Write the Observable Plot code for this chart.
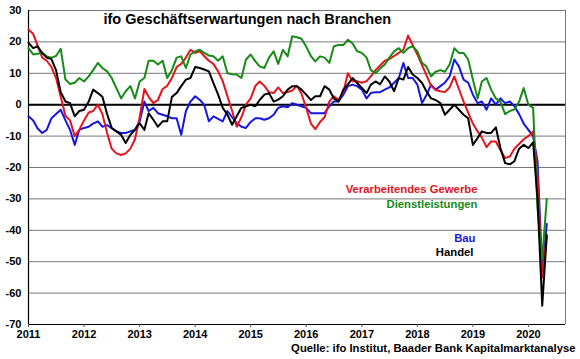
<!DOCTYPE html>
<html>
<head>
<meta charset="utf-8">
<script src="https://cdn.jsdelivr.net/npm/d3@7"></script>
<script src="https://cdn.jsdelivr.net/npm/@observablehq/plot@0.6"></script>
<style>
  html, body { margin: 0; padding: 0; background: #fff; }
  #chart svg { display: block; }
</style>
</head>
<body>
<div id="chart"></div>
<script>
// Monthly series Jan 2011 .. May 2020 (113 months)
const startYear = 2011;
const verarbeitendesGewerbe = [
  24, 22.5, 19, 15, 14, 12, 8.5, 2.5, -3.5, -5, -10, -8,
  -5, -2.5, -2, 0, -3, -9, -14, -15.5, -16, -15.5, -14, -11,
  -4, 5, 2.5, 0.5, 1.5, 5, 6, 8.5, 12, 13, 15, 17.5,
  16.5, 17, 15.5, 14, 13, 10.6, 7.5, 2.7, -2, -7, -4, 0,
  2, 6, 7.4, 6, 4, 3.7, 5.5, 3.7, 4, 4.5, 6, 3.5,
  -1, -6, -7.8, -5.5, -4, 1, 2.7, 1.5, 4, 10, 7.5, 7.5,
  7, 7.5, 9, 11, 12.5, 14, 14.5, 15.5, 16.5, 17.5, 22, 19,
  16, 12.5, 9.5, 6, 4.7, 4.3, 4, 5.5, 9, 5, 1, -2.5,
  -6, -8.5, -10.5, -13.5, -11.7, -11.7, -14.5, -17, -16.5, -14, -12.5, -11,
  -10, -8.5, -22, -55, -42
];
const dienstleistungen = [
  18, 16, 16.2, 16.5, 15.4, 15, 15.5, 17.8, 8, 6.6, 7, 8.5,
  7.4, 9, 11, 13.3, 11.7, 10.6, 8.5, 5.3, 2, 4.3, 5.9, 2,
  7.4, 8.5, 14, 14, 12.8, 14, 8.5, 11, 15, 15.4, 11.7, 16,
  17, 17.5, 16.5, 15.7, 15.4, 14, 15.4, 10, 9.7, 9.6, 8.5, 14.4,
  16, 13.8, 12.2, 11.7, 15, 17, 13, 17.5, 15.4, 21.8, 21.5, 21,
  18.5, 15.5, 13.8, 15.4, 15, 13.3, 18.6, 19, 19, 20.7, 19.5, 17,
  16.5, 15, 11, 10, 11.5, 12.8, 15, 17, 18, 16.5, 18, 18.6,
  17, 13.3, 12.2, 9, 10.5, 11, 10.5, 12.8, 18, 16.5, 16.5, 14.4,
  8, 2, 7.4, 8.5, 4.8, 2, 1, -3, -2, -1.5, 1, 5.3,
  0, -1, -33, -49, -30
];
const bau = [
  -3.7, -5, -7.5, -9, -8, -4.3, -3, -1.6, -5, -8, -12.8, -8,
  -7.4, -7, -6, -5.3, -7, -6.5, -7.5, -8.5, -9, -9, -8.5, -8,
  -5.3, 1, -2, -1, -2.7, -3.2, -3.7, -4.3, -4.3, -9.6, -2, 1,
  2.7, 1.5, 0, -5.3, -3.7, -4.5, -5.3, -2, -4, -5.9, -7, -7.4,
  -5.5, -4.3, -4.3, -4.8, -4.3, -3.2, -1, -0.5, -0.8, 0.5, 0, -0.5,
  -1, -2.7, -2.7, -2.7, -2.7, -0.5, 1, 1, 3.2, 5.9, 6.4, 5.9,
  4.8, 2, 3.7, 4, 4, 4.8, 5.5, 7, 8.5, 13.3, 8.5, 8.5,
  6.4, 0.5, 3, 6.4, 4.8, 5.9, 7, 9, 14.4, 12.2, 8, 7,
  3.2, 0.5, 1, -1.6, 2, 0, 2, 0.5, 1, -0.5, -3, -6,
  -8, -10, -18, -53, -38
];
const handel = [
  19.7, 18, 18.6, 16.5, 15, 14.5, 11, 4, 1, 0.5, -3.7, -2,
  -1.6, 1, 4.8, 3.7, 2.5, -3, -7.4, -8.5, -9.6, -12.2, -9.6, -8,
  -5.9, -8, -2.7, -4.8, -7, -5.3, -5.3, 2.5, 3.7, 5.9, 8, 8.5,
  12, 11.7, 11.2, 10.6, 6.9, 3.2, -1, -3.2, -6.4, -3.7, -1, -0.5,
  0, -0.5, 1.5, 3.2, 3.7, 1, 1.6, 2.7, 4.8, 5.9, 5.9, 4.8,
  3.2, 1.5, 2.7, 2.7, 5.9, 4.8, 2, 1, 4.8, 6.5, 8.5, 6.9,
  5.3, 3.7, 6.4, 7.4, 6.5, 9, 7.4, 4.3, 8.5, 8, 12, 9.6,
  8.5, 6.9, 4.3, 2, 1.5, 0.5, -3.2, -1.6, 0, -1.6, -3.2, -4.3,
  -12.8, -10.6, -8.5, -9, -9, -7.2, -13.8, -18.6, -19, -18, -14, -12.8,
  -13.8, -12, -30, -64, -41.5
];
const seriesNames = ["Verarbeitendes Gewerbe", "Dienstleistungen", "Bau", "Handel"];
const seriesColors = ["#e3141b", "#178a17", "#1616e0", "#000000"];
const yTicks = [-70, -60, -50, -40, -30, -20, -10, 0, 10, 20, 30];
const yearTicks = [2011, 2012, 2013, 2014, 2015, 2016, 2017, 2018, 2019, 2020];
const titleText = "ifo Geschäftserwartungen nach Branchen";
const sourceText = "Quelle: ifo Institut, Baader Bank Kapitalmarktanalyse";

const allSeries = [verarbeitendesGewerbe, dienstleistungen, bau, handel];
const rows = [];
allSeries.forEach((vals, s) => {
  vals.forEach((v, i) => rows.push({series: seriesNames[s], date: new Date(Date.UTC(startYear, i, 1)), value: v}));
});
const yearDates = yearTicks.map(y => new Date(Date.UTC(y, 0, 1)));
const xDomain = [new Date(Date.UTC(2011, 0, 1)), new Date(Date.UTC(2020, 8, 1))];

const font = "'Liberation Sans', Arial, sans-serif";
const drawOrder = ["Bau", "Verarbeitendes Gewerbe", "Dienstleistungen", "Handel"];

const marginLeft = 28, marginTop = 10, marginRight = 15, marginBottom = 35;

const legendPos = {
  "Verarbeitendes Gewerbe": {dx: 449, dy: 179},
  "Dienstleistungen": {dx: 449, dy: 194},
  "Bau": {dx: 447, dy: 228},
  "Handel": {dx: 445, dy: 242}
};

const chart = Plot.plot({
  width: 580,
  height: 359,
  marginLeft, marginTop, marginRight, marginBottom,
  style: {fontFamily: font, background: "#fff", overflow: "visible"},
  x: {type: "utc", domain: xDomain},
  y: {domain: [-70, 30]},
  color: {domain: seriesNames, range: seriesColors},
  marks: [
    Plot.ruleY(yTicks, {stroke: "#777", strokeWidth: 1}),
    Plot.ruleX([xDomain[1]], {stroke: "#777", strokeWidth: 1}),
    Plot.ruleY([0], {stroke: "#000", strokeWidth: 2}),
    Plot.ruleX([xDomain[0]], {stroke: "#000", strokeWidth: 1.2}),
    Plot.ruleY([-70], {stroke: "#000", strokeWidth: 1.2}),
    Plot.axisY({ticks: yTicks, tickSize: 0, tickPadding: 7, tickFormat: d => String(d), label: null,
      fontSize: 11, fontWeight: "bold", fill: "#000"}),
    Plot.axisX({ticks: yearDates, tickSize: 3, tickPadding: 3, tickFormat: d => String(d.getUTCFullYear()), label: null,
      fontSize: 11, fontWeight: "bold", fill: "#000", stroke: "#555"}),
    ...drawOrder.map(name => Plot.line(rows.filter(r => r.series === name), {
      x: "date", y: "value", stroke: seriesColors[seriesNames.indexOf(name)], strokeWidth: 2, strokeLinejoin: "round"
    })),
    ...seriesNames.map((name, s) => Plot.text([name], {
      frameAnchor: "top-left", dx: legendPos[name].dx, dy: legendPos[name].dy,
      text: d => d, textAnchor: "end", lineAnchor: "middle",
      fill: seriesColors[s], fontSize: 11.3, fontWeight: "bold"
    })),
    Plot.text([titleText], {frameAnchor: "top-left", dx: 75, dy: 9, text: d => d, textAnchor: "start",
      lineAnchor: "middle", fontSize: 14.5, fontWeight: "bold", fill: "#000"}),
    Plot.text([sourceText], {frameAnchor: "bottom-right", dx: 10, dy: 24, text: d => d, textAnchor: "end",
      lineAnchor: "middle", fontSize: 11.3, fontWeight: "bold", fill: "#000"})
  ]
});
document.getElementById("chart").appendChild(chart);
</script>
</body>
</html>
